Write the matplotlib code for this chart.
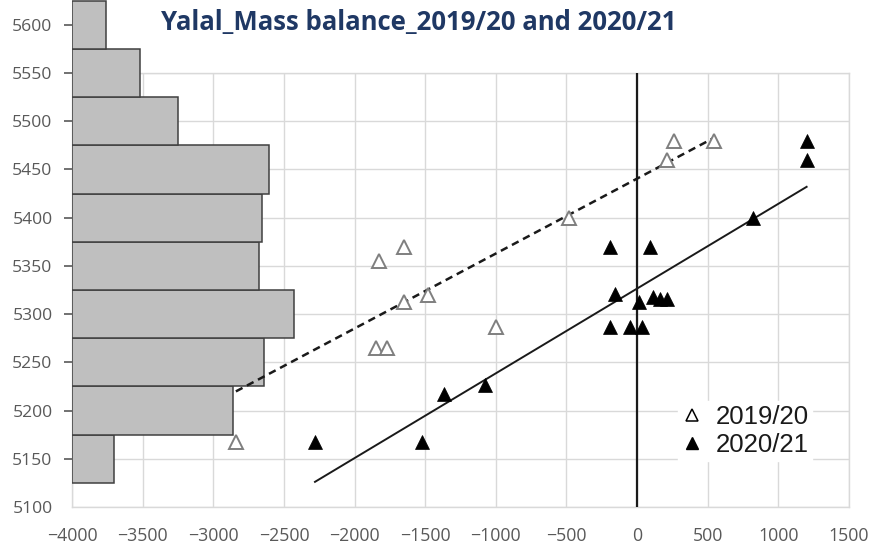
import numpy as np
import matplotlib
matplotlib.use("Agg")
import matplotlib.pyplot as plt
from matplotlib.lines import Line2D

# ---------------- data ----------------
title = "Yalal_Mass balance_2019/20 and 2020/21"

# hypsometry histogram (elevation band centres, band length in x-units from left edge)
hist_elev = [5150, 5200, 5250, 5300, 5350, 5400, 5450, 5500, 5550, 5600]
hist_len = [296, 1138, 1360, 1574, 1327, 1346, 1393, 749, 480, 240]
hist_band = 50

# mass balance 2019/20 (open triangles)
mb1920_x = [-2840, -1850, -1770, -1830, -1650, -1650, -1480, -1000, -480, 210, 260, 545]
mb1920_y = [5167, 5265, 5265, 5355, 5370, 5313, 5320, 5287, 5400, 5460, 5480, 5480]

# mass balance 2020/21 (filled triangles)
mb2021_x = [-2280, -1525, -1370, -1075, -190, -50, 35, -155, 15, 115, 163, 210,
            -190, 90, 820, 1200, 1200]
mb2021_y = [5167, 5167, 5217, 5227, 5287, 5287, 5287, 5321, 5313, 5318, 5316, 5316,
            5370, 5370, 5400, 5460, 5480]

# linear trend lines as shown (slope m/mm, intercept m)
trend1920 = (0.0777, 5440.5)
trend2021 = (0.0879, 5326.5)

x_ticks = [-4000, -3500, -3000, -2500, -2000, -1500, -1000, -500, 0, 500, 1000, 1500]
y_ticks = [5100, 5150, 5200, 5250, 5300, 5350, 5400, 5450, 5500, 5550, 5600]
legend_labels = ["2019/20", "2020/21"]

# ---------------- layout ----------------
W_px, H_px = 871, 549
fig = plt.figure(figsize=(W_px / 100, H_px / 100), dpi=100)

left_px, right_px = 72, 849
bottom_px, top_px = 507, 73
L = left_px / W_px
Wd = (right_px - left_px) / W_px
B = (H_px - bottom_px) / H_px
Hs = (bottom_px - top_px) / H_px
Hh = bottom_px / H_px

xmin, xmax = -4000, 1500
ymin, ymax_s = 5100, 5550
ymax_h = ymin + (ymax_s - ymin) * bottom_px / (bottom_px - top_px)

grid_c = "#d9d9d9"
tick_c = "#595959"

# background scatter axes: grid + x labels
ax_s = fig.add_axes([L, B, Wd, Hs])
ax_s.set_xlim(xmin, xmax)
ax_s.set_ylim(ymin, ymax_s)
ax_s.set_xticks(x_ticks)
ax_s.set_yticks(np.arange(5100, 5551, 50))
ax_s.set_yticklabels([])
ax_s.tick_params(axis="y", length=0)
ax_s.tick_params(axis="x", length=0, pad=14.5, labelsize=12.8, labelcolor=tick_c)
for lab in ax_s.get_xticklabels():
    lab.set_fontfamily("Open Sans")
ax_s.grid(True, color=grid_c, lw=1.0, zorder=0)
ax_s.set_axisbelow(True)
for sp in ax_s.spines.values():
    sp.set_color(grid_c)
    sp.set_linewidth(1.0)
ax_s.axvline(0, color="#1a1a1a", lw=1.6, zorder=3)

# overlay axes: histogram, points, trendlines
ax_h = fig.add_axes([L, B, Wd, Hh])
ax_h.patch.set_alpha(0)
ax_h.set_xlim(xmin, xmax)
ax_h.set_ylim(ymin, ymax_h)
for sp in ax_h.spines.values():
    sp.set_visible(False)
ax_h.set_xticks([])
ax_h.set_yticks(y_ticks)
ax_h.tick_params(axis="y", length=6, width=1.2, color=tick_c, pad=8,
                 labelsize=12.6, labelcolor=tick_c)
for lab in ax_h.get_yticklabels():
    lab.set_fontfamily("Open Sans")
ax_h.yaxis.get_major_ticks()[0].tick1line.set_visible(False)

ax_h.barh(hist_elev, hist_len, height=hist_band, left=xmin,
          color="#bfbfbf", edgecolor="#404040", linewidth=1.1, zorder=2)

# trend lines
for xs, (k, b), ls, lw in [(mb1920_x, trend1920, (0, (3.0, 2.0)), 1.8),
                           (mb2021_x, trend2021, "-", 1.4)]:
    xx = np.array([min(xs), max(xs)], float)
    ax_h.plot(xx, k * xx + b, color="#1a1a1a", lw=lw, linestyle=ls, zorder=4)

ax_h.plot(mb1920_x, mb1920_y, linestyle="none", marker="^", markersize=10.5,
          markerfacecolor="white", markeredgecolor="#7f7f7f", markeredgewidth=1.4,
          zorder=5)
ax_h.plot(mb2021_x, mb2021_y, linestyle="none", marker="^", markersize=10.5,
          markerfacecolor="black", markeredgecolor="black", markeredgewidth=0.5,
          zorder=6)

handles = [
    Line2D([], [], linestyle="none", marker="^", markersize=8,
           markerfacecolor="white", markeredgecolor="black", markeredgewidth=1.1),
    Line2D([], [], linestyle="none", marker="^", markersize=8,
           markerfacecolor="black", markeredgecolor="black"),
]
leg = ax_h.legend(handles, legend_labels, loc="upper left",
                  bbox_to_anchor=(678 / W_px, 1 - 401 / H_px),
                  bbox_transform=fig.transFigure,
                  frameon=True, fancybox=False, framealpha=1,
                  edgecolor="white", facecolor="white",
                  prop={"family": "Liberation Sans", "size": 18.5},
                  handlelength=0.8, handletextpad=0.5, borderpad=0.15,
                  labelspacing=0.15, borderaxespad=0)
for t in leg.get_texts():
    t.set_color("#1a1a1a")
leg.set_zorder(10)

fig.text(419 / W_px, 1 - 23 / H_px, title, ha="center", va="center",
         fontsize=18.5, fontweight="bold", color="#1f3864", family="Open Sans")

fig.savefig("out.png", dpi=100)
